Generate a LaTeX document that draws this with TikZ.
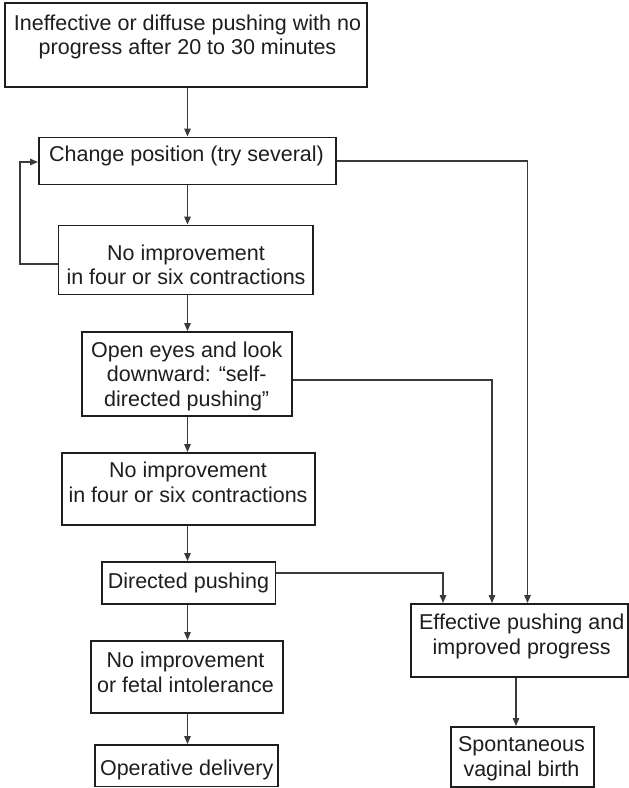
\documentclass[tikz,border=0pt]{standalone}
\usepackage{fontspec}
\setmainfont{Liberation Sans}
\usetikzlibrary{arrows.meta}
\definecolor{ink}{HTML}{1E1E1E}
\definecolor{wire}{HTML}{3A3A3A}
\begin{document}
\begin{tikzpicture}[x=1pt,y=-1pt,
  box/.style={draw=ink,line width=1.9pt,rectangle,inner sep=0pt,fill=white},
  txt/.style={text=ink,align=center,inner sep=0pt,font=\fontsize{21.5}{24.5}\selectfont},
  arr/.style={draw=wire,line width=1.2pt,-{Triangle[length=8pt,width=6.5pt]}}]
\useasboundingbox (0,0) rectangle (629,788);

% boxes (centre, size)
\node[box,minimum width=362pt,minimum height=84pt]   (top)       at (186,45) {};
\node[box,minimum width=297pt,minimum height=47pt]   (change)    at (187.5,161) {};
\node[box,minimum width=254.5pt,minimum height=69pt] (ni1)       at (185.75,260) {};
\node[box,minimum width=210pt,minimum height=84pt]   (openeyes)  at (187,374) {};
\node[box,minimum width=253pt,minimum height=72pt]   (ni2)       at (188.5,489) {};
\node[box,minimum width=173.5pt,minimum height=42pt] (directed)  at (188.75,583) {};
\node[box,minimum width=192pt,minimum height=72pt]   (ni3)       at (187,677) {};
\node[box,minimum width=183pt,minimum height=41.5pt] (operative) at (186.5,765.75) {};
\node[box,minimum width=217pt,minimum height=73pt]   (effective) at (519.5,640.5) {};
\node[box,minimum width=143pt,minimum height=60pt]   (spont)     at (522.5,757) {};

% texts
\node[txt] (topt) at (187.5,37.8) {\strut Ineffective or diffuse pushing with no\\\strut progress after 20 to 30 minutes};
\node[txt] (changet) at (186.5,156.8) {\strut Change position (try several)};
\node[txt] (ni1t) at (186,267.5) {\strut No improvement\\\strut in four or six contractions};
\node[txt] (openeyest) at (186.7,376.8) {\strut Open eyes and look\\\strut downward: “self-\\\strut directed pushing”};
\node[txt] (ni2t) at (188,485) {\strut No improvement\\\strut in four or six contractions};
\node[txt] (directedt) at (188.5,583.3) {\strut Directed pushing};
\node[txt] (ni3t) at (185.5,675) {\strut No improvement\\\strut or fetal intolerance};
\node[txt] (operativet) at (186.7,770.3) {\strut Operative delivery};
\node[txt] (effectivet) at (521.7,637) {\strut Effective pushing and\\\strut improved progress};
\node[txt] (spontt) at (521.5,759) {\strut Spontaneous\\\strut vaginal birth};

% main column
\coordinate (spine) at (187.5,0);
\coordinate (loopx) at (20,210);
\coordinate (birth) at (516,0);
\draw[arr] (spine |- top.south) -- (spine |- change.north);
\draw[arr] (spine |- change.south) -- (spine |- ni1.north);
\draw[arr] (spine |- ni1.south) -- (spine |- openeyes.north);
\draw[arr] (spine |- openeyes.south) -- (spine |- ni2.north);
\draw[arr] (spine |- ni2.south) -- (spine |- directed.north);
\draw[arr] (spine |- directed.south) -- (spine |- ni3.north);
\draw[arr] (spine |- ni3.south) -- (spine |- operative.north);

% loop back to position change
\draw[arr] ([yshift=-4pt]ni1.west) -| (loopx) |- ([yshift=-1pt]change.west);

% branches to effective pushing
\draw[arr] (change.east) -| ([xshift=8pt]effective.north);
\draw[arr] ([yshift=-6pt]openeyes.east) -| ([xshift=-27.5pt]effective.north);
\draw[arr] ([yshift=10pt]directed.east) -| ([xshift=-76.5pt]effective.north);
\draw[arr] (birth |- effective.south) -- (birth |- spont.north);
\end{tikzpicture}
\end{document}
